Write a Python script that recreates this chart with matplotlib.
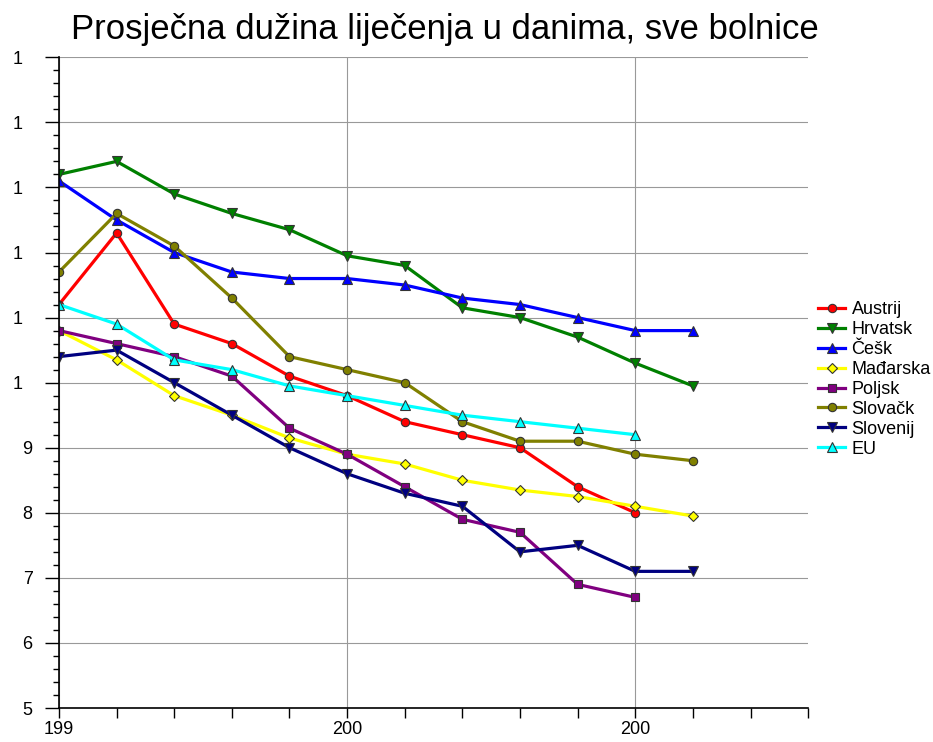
import matplotlib.pyplot as plt
from matplotlib.ticker import FixedLocator

plt.rcParams['font.family'] = ['Liberation Sans', 'DejaVu Sans']

years = list(range(1995, 2007))

austrija = [11.2, 12.3, 10.9, 10.6, 10.1, 9.8, 9.4, 9.2, 9.0, 8.4, 8.0]
hrvatska = [13.2, 13.4, 12.9, 12.6, 12.35, 11.95, 11.8, 11.15, 11.0, 10.7, 10.3, 9.95]
ceska = [13.1, 12.5, 12.0, 11.7, 11.6, 11.6, 11.5, 11.3, 11.2, 11.0, 10.8, 10.8]
madarska = [10.8, 10.35, 9.8, 9.5, 9.15, 8.9, 8.75, 8.5, 8.35, 8.25, 8.1, 7.95]
poljska = [10.8, 10.6, 10.4, 10.1, 9.3, 8.9, 8.4, 7.9, 7.7, 6.9, 6.7]
slovacka = [11.7, 12.6, 12.1, 11.3, 10.4, 10.2, 10.0, 9.4, 9.1, 9.1, 8.9, 8.8]
slovenija = [10.4, 10.5, 10.0, 9.5, 9.0, 8.6, 8.3, 8.1, 7.4, 7.5, 7.1, 7.1]
eu = [11.2, 10.9, 10.35, 10.2, 9.95, 9.8, 9.65, 9.5, 9.4, 9.3, 9.2]

x_ticks = [1995, 2000, 2005]
x_labels = ['199', '200', '200']
y_ticks = list(range(5, 16))
y_labels = ['5', '6', '7', '8', '9'] + ['1\u2007'] * 6

series = [
    ('Austrij', austrija, '#FF0000', 'o', 6),
    ('Hrvatsk', hrvatska, '#008000', 'v', 7),
    ('Češk', ceska, '#0000FF', '^', 7),
    ('Mađarska', madarska, '#FFFF00', 'D', 5),
    ('Poljsk', poljska, '#800080', 's', 6),
    ('Slovačk', slovacka, '#808000', 'o', 6),
    ('Slovenij', slovenija, '#000080', 'v', 7),
    ('EU', eu, '#00FFFF', '^', 7),
]

fig = plt.figure(figsize=(9.33, 7.42), dpi=100)
ax = fig.add_axes([0.0632, 0.0458, 0.803, 0.877])

for name, vals, col, mk, ms in series:
    ax.plot(years[:len(vals)], vals, color=col, lw=2.3, marker=mk, ms=ms,
            markerfacecolor=col, markeredgecolor='#333333', markeredgewidth=0.8,
            label=name)

ax.set_xlim(1995, 2008)
ax.set_ylim(5, 15)
ax.xaxis.set_major_locator(FixedLocator(x_ticks))
ax.xaxis.set_minor_locator(FixedLocator(range(1995, 2009)))
ax.yaxis.set_major_locator(FixedLocator(y_ticks))
ax.yaxis.set_minor_locator(FixedLocator([5 + 0.2 * i for i in range(51)]))
ax.set_xticklabels(x_labels)
ax.set_yticklabels(y_labels)
ax.tick_params(axis='x', which='both', length=7, width=1, labelsize=13, pad=2)
ax.tick_params(axis='y', which='major', length=10, width=1, labelsize=13, pad=9)
ax.tick_params(axis='y', which='minor', length=4.5, width=1)
ax.grid(True, which='major', color='#999999', lw=0.8)

ax.spines['top'].set_visible(False)
ax.spines['right'].set_visible(False)
ax.spines['left'].set_linewidth(1.2)
ax.spines['bottom'].set_linewidth(1.2)

fig.text(445 / 933, 1 - 30 / 742, 'Prosječna dužina liječenja u danima, sve bolnice',
         fontsize=25, ha='center', va='center')

ax.legend(loc='center left', bbox_to_anchor=(1.0, 0.505), frameon=False,
          fontsize=13, handlelength=1.5, handletextpad=0.35,
          labelspacing=0.16, borderaxespad=0.15)

fig.savefig('out.png', dpi=100)
